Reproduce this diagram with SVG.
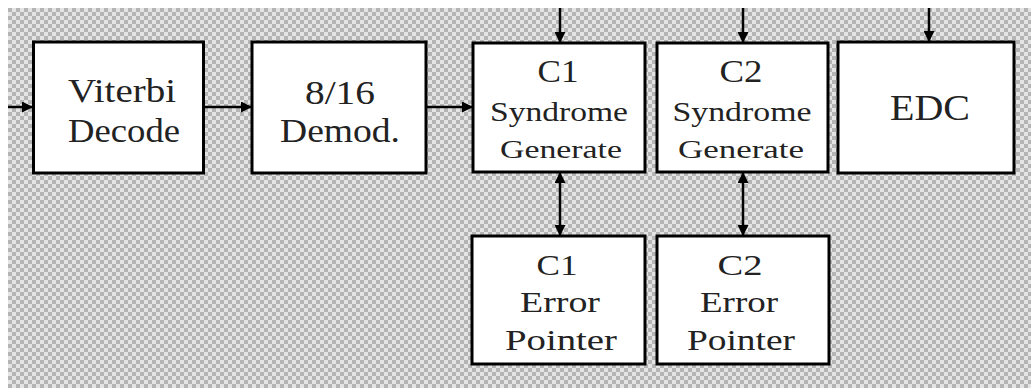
<svg xmlns="http://www.w3.org/2000/svg" width="1031" height="388" viewBox="0 0 1031 388">
<defs>
<pattern id="dither" x="0" y="0" width="8" height="8" patternUnits="userSpaceOnUse">
<rect width="8" height="8" fill="#e4e4e4"/>
<rect x="0" y="0" width="4" height="4" fill="#b4b4b4"/>
<rect x="4" y="4" width="4" height="4" fill="#b4b4b4"/>
</pattern>
<marker id="ah" viewBox="0 0 10 10" refX="10" refY="5" markerWidth="11" markerHeight="11" markerUnits="userSpaceOnUse" orient="auto-start-reverse">
<path d="M0,0 L10,5 L0,10 z" fill="#000"/>
</marker>
</defs>
<style>
.box{fill:#fff;stroke:#000;stroke-width:3}
.t{font-family:"Liberation Serif","Times New Roman",serif;fill:#222;text-anchor:middle}
.conn{stroke:#000;stroke-width:2.5;fill:none}
</style>
<rect width="1031" height="388" fill="#fff"/>
<rect x="8" y="8" width="1023" height="380" fill="url(#dither)"/>

<g id="connectors">
<line class="conn" x1="8" y1="107" x2="33" y2="107" marker-end="url(#ah)"/>
<line class="conn" x1="203" y1="107" x2="252" y2="107" marker-end="url(#ah)"/>
<line class="conn" x1="426" y1="107" x2="473" y2="107" marker-end="url(#ah)"/>
<line class="conn" x1="560" y1="8" x2="560" y2="43" marker-end="url(#ah)"/>
<line class="conn" x1="743" y1="8" x2="743" y2="43" marker-end="url(#ah)"/>
<line class="conn" x1="929" y1="8" x2="929" y2="42" marker-end="url(#ah)"/>
<line class="conn" x1="560" y1="172" x2="560" y2="236" marker-start="url(#ah)" marker-end="url(#ah)"/>
<line class="conn" x1="743" y1="172" x2="743" y2="236" marker-start="url(#ah)" marker-end="url(#ah)"/>
</g>

<g id="viterbi">
<rect class="box" x="33.5" y="42" width="170" height="131"/>
<text class="t" x="122" y="102" font-size="33" textLength="108" lengthAdjust="spacingAndGlyphs">Viterbi</text>
<text class="t" x="124" y="142" font-size="33" textLength="112" lengthAdjust="spacingAndGlyphs">Decode</text>
</g>

<g id="demod">
<rect class="box" x="252" y="42" width="174" height="131"/>
<text class="t" x="340" y="104" font-size="33" textLength="70" lengthAdjust="spacingAndGlyphs">8/16</text>
<text class="t" x="340" y="142" font-size="33" textLength="120" lengthAdjust="spacingAndGlyphs">Demod.</text>
</g>

<g id="c1-syndrome">
<rect class="box" x="473" y="43" width="172" height="129"/>
<text class="t" x="558" y="82" font-size="31" textLength="41" lengthAdjust="spacingAndGlyphs">C1</text>
<text class="t" x="559" y="121" font-size="27" textLength="138" lengthAdjust="spacingAndGlyphs">Syndrome</text>
<text class="t" x="561" y="158" font-size="25" textLength="122" lengthAdjust="spacingAndGlyphs">Generate</text>
</g>

<g id="c2-syndrome">
<rect class="box" x="657" y="43" width="171" height="129"/>
<text class="t" x="741" y="82" font-size="31" textLength="43" lengthAdjust="spacingAndGlyphs">C2</text>
<text class="t" x="742" y="121" font-size="27" textLength="139" lengthAdjust="spacingAndGlyphs">Syndrome</text>
<text class="t" x="741" y="158" font-size="25" textLength="126" lengthAdjust="spacingAndGlyphs">Generate</text>
</g>

<g id="edc">
<rect class="box" x="838" y="42" width="176" height="131"/>
<text class="t" x="930" y="120" font-size="35" textLength="80" lengthAdjust="spacingAndGlyphs">EDC</text>
</g>

<g id="c1-error">
<rect class="box" x="472" y="236" width="173" height="128"/>
<text class="t" x="557" y="275" font-size="30" textLength="41" lengthAdjust="spacingAndGlyphs">C1</text>
<text class="t" x="560" y="312" font-size="30" textLength="80" lengthAdjust="spacingAndGlyphs">Error</text>
<text class="t" x="561" y="350" font-size="30" textLength="112" lengthAdjust="spacingAndGlyphs">Pointer</text>
</g>

<g id="c2-error">
<rect class="box" x="657" y="236" width="172" height="128"/>
<text class="t" x="740" y="275" font-size="30" textLength="45" lengthAdjust="spacingAndGlyphs">C2</text>
<text class="t" x="739" y="312" font-size="30" textLength="78" lengthAdjust="spacingAndGlyphs">Error</text>
<text class="t" x="741" y="350" font-size="30" textLength="108" lengthAdjust="spacingAndGlyphs">Pointer</text>
</g>
</svg>
